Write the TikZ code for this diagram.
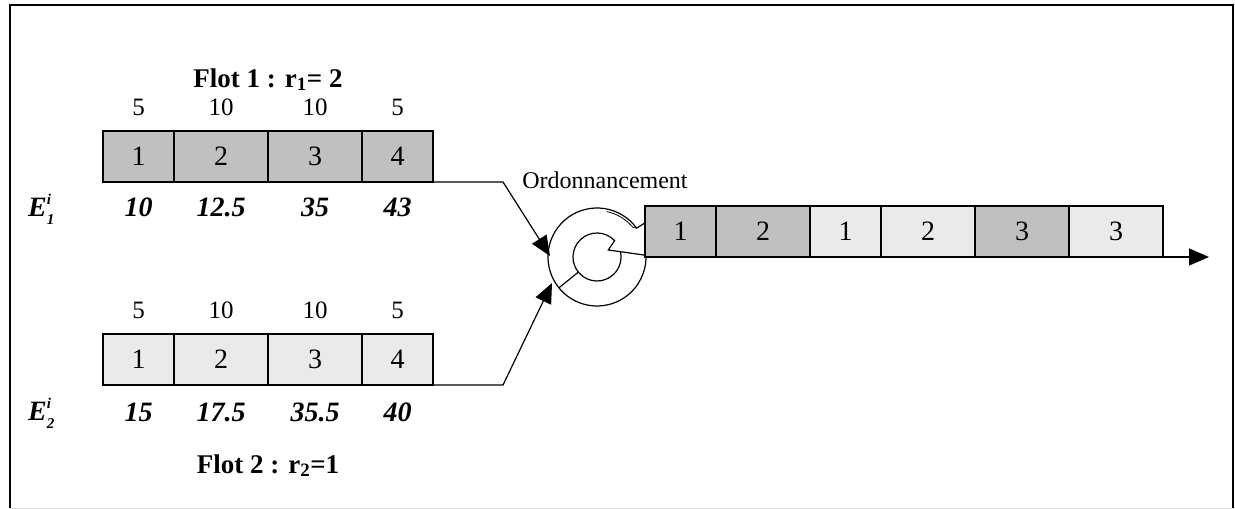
\documentclass[tikz,border=0pt]{standalone}
\usepackage{fontspec}
\setmainfont{Liberation Serif}
\usetikzlibrary{positioning, calc, arrows.meta}
\definecolor{flotdark}{HTML}{C0C0C0}
\definecolor{flotlight}{HTML}{EAEAEA}
\newcommand{\indice}[2]{\textbf{\textit{E}}\rlap{\raisebox{12pt}{\fontsize{15}{15}\selectfont\textbf{\textit{#1}}}}\raisebox{-8pt}{\fontsize{15}{15}\selectfont\textbf{\textit{#2}}}}
\tikzset{
	cell/.style={draw, line width=1.4pt, minimum height=51pt, inner sep=0pt, outer sep=0pt, font=\fontsize{28}{32}\selectfont},
	dark/.style={cell, fill=flotdark},
	light/.style={cell, fill=flotlight},
	short/.style={minimum width=71pt},
	long/.style={minimum width=94pt},
	poids/.style={inner sep=0pt, font=\fontsize{25}{30}\selectfont},
	echeance/.style={inner sep=0pt, font=\fontsize{28}{32}\selectfont\bfseries\itshape},
	titre/.style={inner sep=0pt, font=\fontsize{27}{32}\selectfont\bfseries},
	fleche/.style={line width=1.2pt, -{Triangle[length=20pt,width=17pt]}}
}
\begin{document}
\begin{tikzpicture}[x=1pt, y=-1pt, node distance=0pt]
	\useasboundingbox (0,0) rectangle (1235,509);
	\draw[line width=1.5pt] (10,508) -- (10,5) -- (1233,5) -- (1233,508);
	\draw[line width=1pt, black!15] (10,508) -- (1233,508);
	% flot 1
	\node[dark, short, anchor=north west] (f1a) at (103,131) {1};
	\node[dark, long, right=of f1a] (f1b) {2};
	\node[dark, long, right=of f1b] (f1c) {3};
	\node[dark, short, right=of f1c] (f1d) {4};
	\foreach \c/\p/\e in {a/5/10, b/10/12.5, c/10/35, d/5/43} {
		\node[poids, above=16pt of f1\c, anchor=base] (p1\c) {\p};
		\node[echeance, below=34pt of f1\c, anchor=base] (e1\c) {\e};
	}
	\node[titre, above=44pt of f1b.north east, anchor=base] (titre1) {Flot 1 : r\textsubscript{1}= 2};
	\node[echeance, anchor=base west] (E1) at (28,216) {\indice{i}{1}};
	% flot 2
	\node[light, short, below=152pt of f1a] (f2a) {1};
	\node[light, long, right=of f2a] (f2b) {2};
	\node[light, long, right=of f2b] (f2c) {3};
	\node[light, short, right=of f2c] (f2d) {4};
	\foreach \c/\p/\e in {a/5/15, b/10/17.5, c/10/35.5, d/5/40} {
		\node[poids, above=16pt of f2\c, anchor=base] (p2\c) {\p};
		\node[echeance, below=36pt of f2\c, anchor=base] (e2\c) {\e};
	}
	\node[titre, below=88pt of f2b.south east, anchor=base] (titre2) {Flot 2 : r\textsubscript{2}=1};
	\node[echeance, anchor=base west] (E2) at (28,420.7) {\indice{i}{2}};
	% ordonnanceur
	\coordinate (ring) at (597,257);
	\coordinate (tip) at ($(ring)+(11.3,-7)$);
	\draw[line width=1.2pt] ($(ring)+(-36:49)$) arc[start angle=-36, end angle=-362, radius=49]
		-- (tip) -- ($(ring)+(-43:24)$) arc[start angle=-43, end angle=-371, radius=24];
	\draw[line width=1.2pt] ($(ring)+(-219:24)$) -- ($(ring)+(-219:49)$);
	\draw[line width=1.2pt] ($(ring)+(-36:49)$) -- ++(14,-9);
	\draw[line width=0.8pt] ($(ring)+(-78:46.5)$) arc[start angle=-78, end angle=-40, radius=46.5] -- ($(ring)+(-36:49)$);
	\node[poids, font=\fontsize{24}{28}\selectfont, anchor=base] (ordo) at (605,188) {Ordonnancement};
	% sortie
	\node[dark, short, anchor=south west] (o1) at ($(ring)+(48,0)$) {1};
	\node[dark, long, right=of o1] (o2) {2};
	\node[light, short, right=of o2] (o3) {1};
	\node[light, long, right=of o3] (o4) {2};
	\node[dark, long, right=of o4] (o5) {3};
	\node[light, long, right=of o5] (o6) {3};
	\coordinate (in1) at ($(ring)+(-47,-1)$);
	\coordinate (in2) at ($(ring)+(-45,26)$);
	\coordinate[right=46pt of o6.south east] (sortie);
	\foreach \from/\to in {f1d/in1, f2d/in2}
		\draw[fleche] (\from.south east) -- ++(70,0) -- (\to);
	\draw[fleche] (o6.south east) -- (sortie);
\end{tikzpicture}
\end{document}
